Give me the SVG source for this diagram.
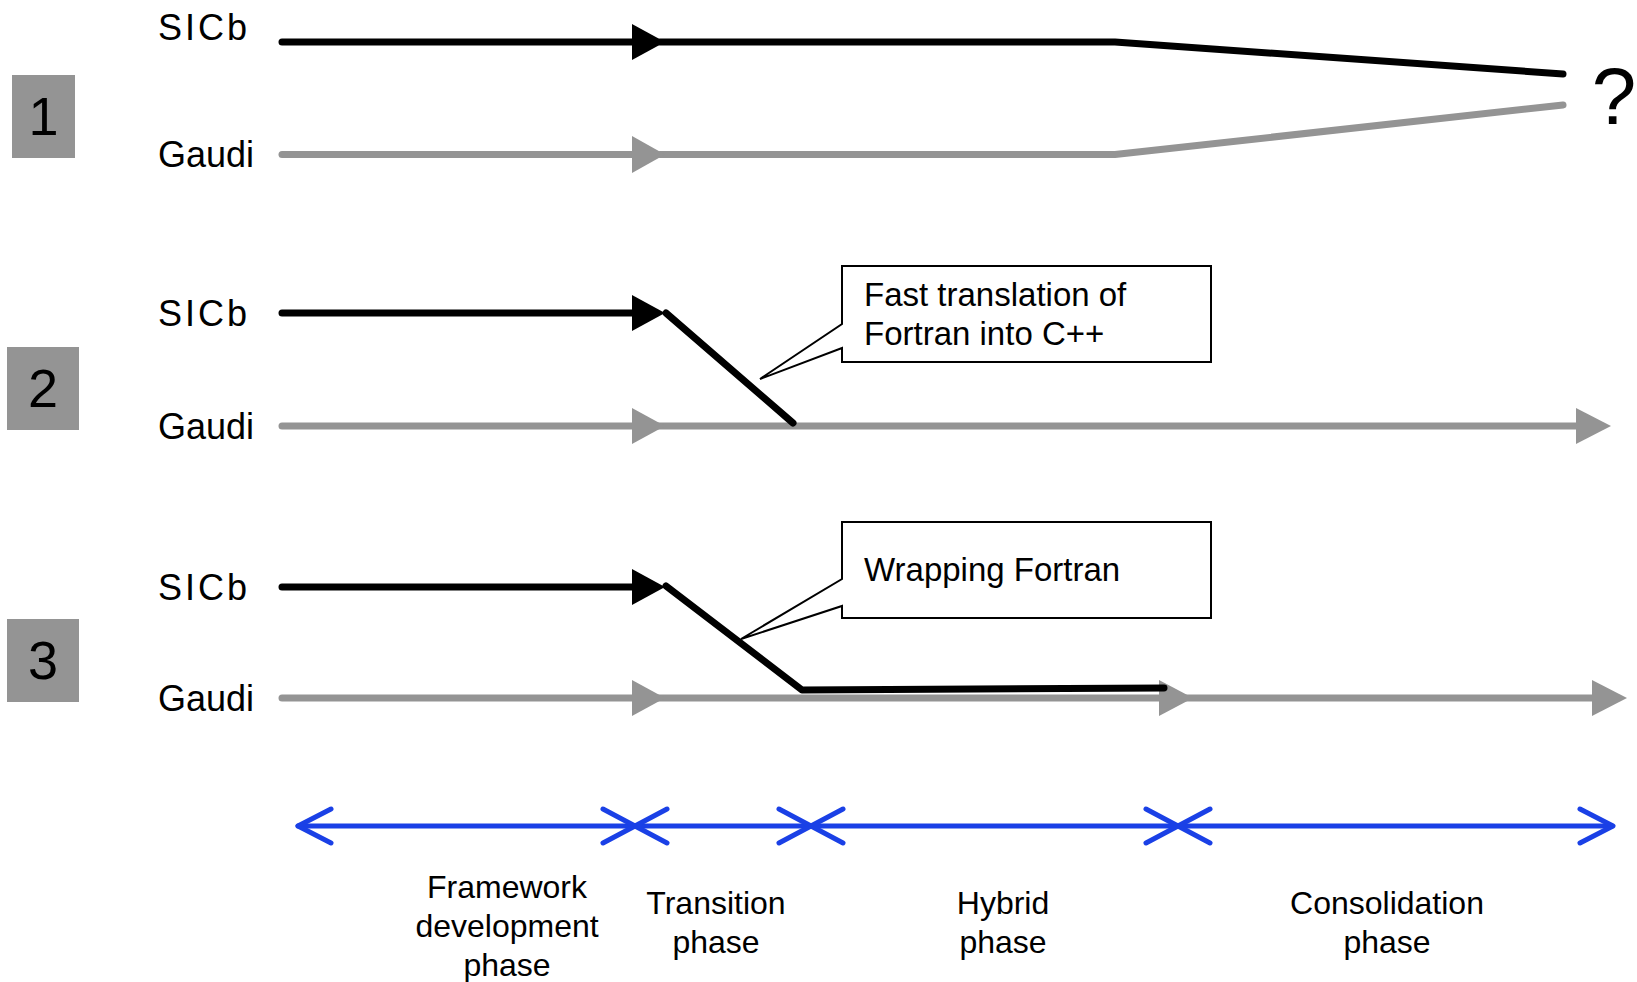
<svg xmlns="http://www.w3.org/2000/svg" width="1637" height="982" viewBox="0 0 1637 982">
<style>
.t{font-family:"Comic Sans MS","Liberation Sans",sans-serif;fill:#000}
.lbl{font-size:36px}
.sic{letter-spacing:3px}
.ph{font-size:32px;text-anchor:middle}
.num{font-size:54px;text-anchor:middle}
.blk{stroke:#000;stroke-width:7;fill:none;stroke-linecap:round;stroke-linejoin:round}
.gry{stroke:#949494;stroke-width:7;fill:none;stroke-linecap:round}
.blu{stroke:#1a40e6;stroke-width:5;fill:none;stroke-linecap:round;stroke-linejoin:round}
.box{fill:#949494}
.call{fill:#fff;stroke:#000;stroke-width:2}
.hb{fill:#000}
.hg{fill:#949494}
</style>
<g id="box1"><rect class="box" x="12" y="75" width="63" height="83"/><text class="t num" x="43.5" y="135">1</text></g>
<g id="box2"><rect class="box" x="7" y="347" width="72" height="83"/><text class="t num" x="43" y="407">2</text></g>
<g id="box3"><rect class="box" x="7" y="619" width="72" height="83"/><text class="t num" x="43" y="679">3</text></g>
<g id="labels">
<text class="t lbl sic" x="158" y="40">SICb</text>
<text class="t lbl" x="158" y="167">Gaudi</text>
<text class="t lbl sic" x="158" y="326">SICb</text>
<text class="t lbl" x="158" y="439">Gaudi</text>
<text class="t lbl sic" x="158" y="600">SICb</text>
<text class="t lbl" x="158" y="711">Gaudi</text>
<text class="t" x="1614" y="124" font-size="80" text-anchor="middle">?</text>
</g>
<g id="callout1">
<path class="call" d="M842,266 H1211 V362 H842 V348 L760,379 L842,324 Z"/>
<text class="t" x="864" y="306" font-size="33">Fast translation of</text>
<text class="t" x="864" y="345" font-size="33">Fortran into C++</text>
</g>
<g id="callout2">
<path class="call" d="M842,522 H1211 V618 H842 V606 L741,639 L842,579 Z"/>
<text class="t" x="864" y="581" font-size="33">Wrapping Fortran</text>
</g>
<g id="connectors">
<line class="gry" x1="282" y1="154.5" x2="640" y2="154.5"/>
<polyline class="gry" points="660,154.5 1115,154.5 1563,105" stroke-linejoin="round"/>
<polygon class="hg" points="632,136 665,154.5 632,173"/>
<line class="blk" x1="282" y1="42" x2="640" y2="42"/>
<polyline class="blk" points="660,42 1115,42 1563,74"/>
<polygon class="hb" points="632,24 665,42 632,60"/>
<line class="gry" x1="282" y1="426" x2="1585" y2="426"/>
<polygon class="hg" points="632,408 665,426 632,444"/>
<polygon class="hg" points="1576,408 1611,426 1576,444"/>
<line class="blk" x1="282" y1="313" x2="640" y2="313"/>
<polygon class="hb" points="632,295 665,313 632,331"/>
<polyline class="blk" points="666,313 793,423" stroke-linecap="butt"/>
<line class="gry" x1="282" y1="698" x2="1600" y2="698"/>
<polygon class="hg" points="632,680 665,698 632,716"/>
<polygon class="hg" points="1159,680 1193,698 1159,716"/>
<polygon class="hg" points="1592,680 1627,698 1592,716"/>
<line class="blk" x1="282" y1="587" x2="640" y2="587"/>
<polygon class="hb" points="632,569 665,587 632,605"/>
<polyline class="blk" points="666,586 802,690 1164,688" stroke-linejoin="miter"/>
</g>
<g id="timeline">
<line class="blu" x1="298" y1="826" x2="1612" y2="826"/>
<polyline class="blu" points="331,809 298,826 331,843"/>
<polyline class="blu" points="1580,809 1613,826 1580,843"/>
<path class="blu" d="M603,809 L667,843 M603,843 L667,809"/>
<path class="blu" d="M779,809 L843,843 M779,843 L843,809"/>
<path class="blu" d="M1146,809 L1210,843 M1146,843 L1210,809"/>
</g>
<g id="phases">
<text class="t ph" x="507" y="898">Framework</text>
<text class="t ph" x="507" y="937">development</text>
<text class="t ph" x="507" y="976">phase</text>
<text class="t ph" x="716" y="914">Transition</text>
<text class="t ph" x="716" y="953">phase</text>
<text class="t ph" x="1003" y="914">Hybrid</text>
<text class="t ph" x="1003" y="953">phase</text>
<text class="t ph" x="1387" y="914">Consolidation</text>
<text class="t ph" x="1387" y="953">phase</text>
</g>
</svg>
